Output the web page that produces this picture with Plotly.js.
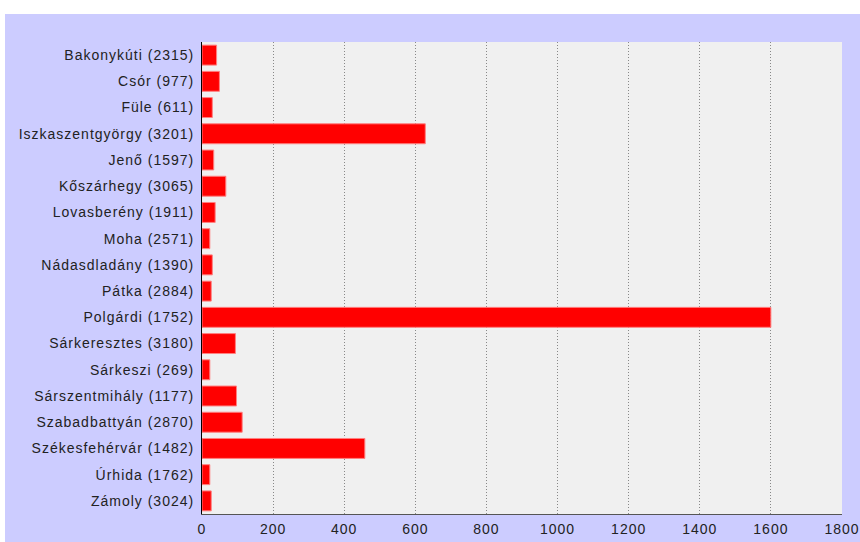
<!DOCTYPE html>
<html>
<head>
<meta charset="utf-8">
<script src="https://cdn.plot.ly/plotly-3.0.1.min.js"></script>
<style>
html,body{margin:0;padding:0;background:#ffffff;width:860px;height:542px;overflow:hidden;}
#chart{position:absolute;left:5px;top:14px;width:855px;height:528px;}
#chart .ytick text, #chart .xtick text{letter-spacing:1px;}
</style>
</head>
<body>
<div id="chart"></div>
<script>
const categories = [
  "Bakonykúti (2315)", "Csór (977)", "Füle (611)", "Iszkaszentgyörgy (3201)",
  "Jenő (1597)", "Kőszárhegy (3065)", "Lovasberény (1911)", "Moha (2571)",
  "Nádasdladány (1390)", "Pátka (2884)", "Polgárdi (1752)", "Sárkeresztes (3180)",
  "Sárkeszi (269)", "Sárszentmihály (1177)", "Szabadbattyán (2870)",
  "Székesfehérvár (1482)", "Úrhida (1762)", "Zámoly (3024)"
];
const values = [41, 49, 29, 628, 33, 67, 37, 22, 29, 26, 1600, 94, 22, 97, 113, 458, 22, 26];
const xTicks = [0, 200, 400, 600, 800, 1000, 1200, 1400, 1600, 1800];

const trace = {
  type: "bar",
  orientation: "h",
  y: categories,
  x: values,
  marker: { color: "#ff0000", line: { color: "#ff8080", width: 1 } },
  hoverinfo: "x+y"
};

const layout = {
  width: 855,
  height: 528,
  margin: { l: 197, r: 18, t: 28, b: 28, pad: 0 },
  paper_bgcolor: "#ccccff",
  plot_bgcolor: "#f0f0f0",
  bargap: 0.24,
  showlegend: false,
  font: { family: "Liberation Sans, Arial, sans-serif", size: 14, color: "#222222" },
  xaxis: {
    range: [0, 1800],
    tickvals: xTicks,
    ticktext: xTicks.map(String),
    showgrid: true,
    gridcolor: "#888888",
    griddash: "1px,2px",
    gridwidth: 1,
    zeroline: false,
    showline: true,
    linecolor: "#555555",
    linewidth: 1,
    ticks: "",
    ticklabelstandoff: 2,
    fixedrange: true
  },
  yaxis: {
    autorange: "reversed",
    showgrid: false,
    zeroline: false,
    showline: true,
    linecolor: "#000000",
    linewidth: 1,
    ticks: "",
    ticklabelstandoff: 4,
    fixedrange: true
  }
};

Plotly.newPlot("chart", [trace], layout, { displayModeBar: false, staticPlot: true });
</script>
</body>
</html>
